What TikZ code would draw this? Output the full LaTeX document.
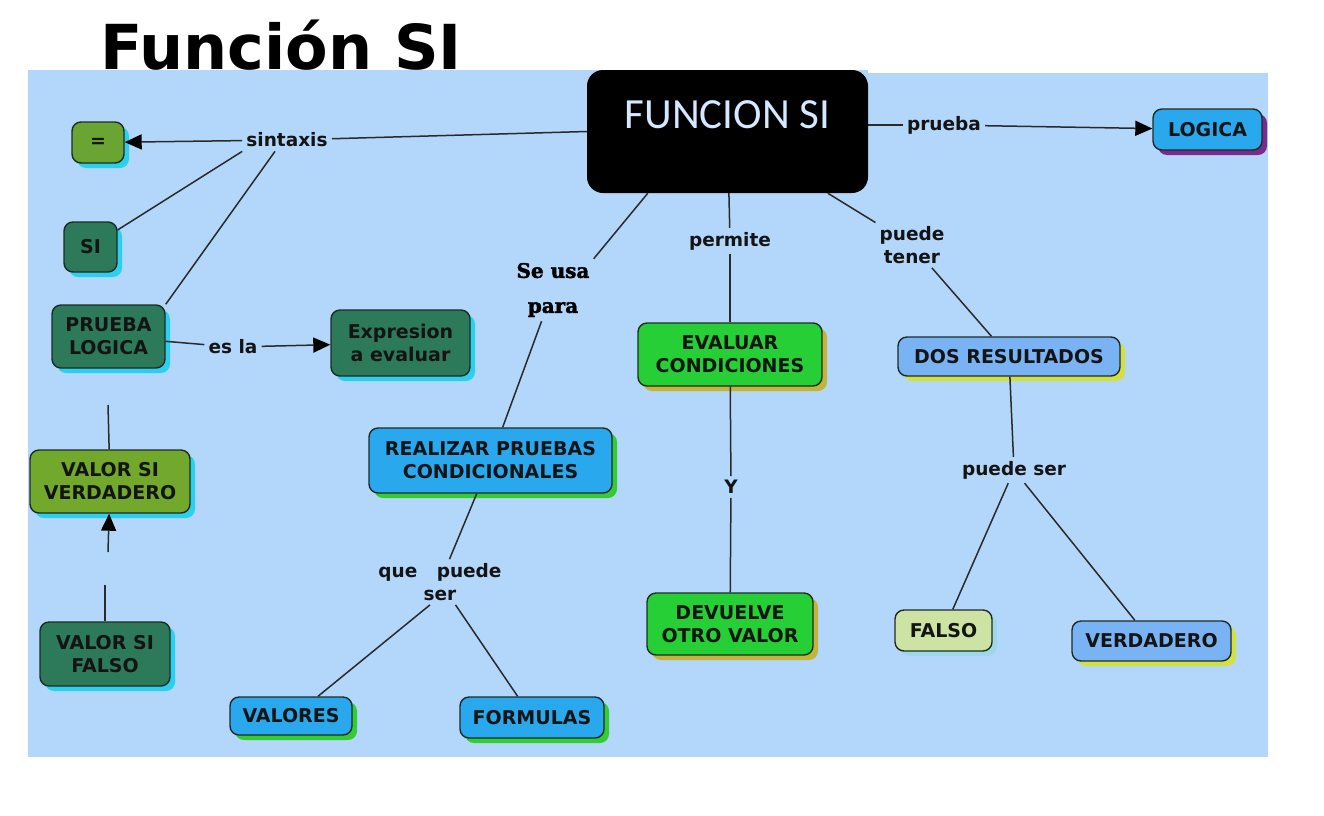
\documentclass[tikz,border=0pt]{standalone}
\usepackage{fontspec}
\setmainfont{DejaVu Sans}
\newfontfamily\carl{Carlito}
\newfontfamily\cooper{DejaVu Serif}[BoldFont={DejaVu Serif Bold}, BoldFeatures={FakeBold=2}]
\usetikzlibrary{arrows.meta,shadows}
\definecolor{bg}{HTML}{B3D7FA}
\definecolor{dgreen}{HTML}{2D7A5A}
\definecolor{olive}{HTML}{72A82C}
\definecolor{eqgreen}{HTML}{6AA534}
\definecolor{bgreen}{HTML}{26CF35}
\definecolor{cblue}{HTML}{29A8EE}
\definecolor{lblue}{HTML}{79B3F3}
\definecolor{pale}{HTML}{CDE3A4}
\definecolor{shcyan}{HTML}{2BD0F0}
\definecolor{shgreen}{HTML}{33CC33}
\definecolor{shyel}{HTML}{C2B53A}
\definecolor{shlime}{HTML}{D4E040}
\definecolor{shpurp}{HTML}{7A2A8A}
\definecolor{shpale}{HTML}{9ED8E8}
\definecolor{bord}{HTML}{1E2B25}
\definecolor{txt}{HTML}{141414}
\definecolor{lin}{HTML}{2A2A2A}
\definecolor{ftxt}{HTML}{D4E8FF}
\tikzset{
  box/.style={draw=bord, line width=1.4pt, rounded corners=9pt, text=txt,
    font=\bfseries\fontsize{19}{23}\selectfont, align=center, inner sep=0pt},
  sh/.style={drop shadow={shadow xshift=5pt, shadow yshift=-5pt, fill=#1, opacity=1}},
  lbl/.style={font=\bfseries\fontsize{18.5}{23}\selectfont, text=txt, align=center, inner sep=4pt},
  con/.style={draw=lin, line width=1.5pt},
  arr/.style={con, -{Triangle[length=17pt,width=15pt,color=black,fill=black]}}
}
\begin{document}
\begin{tikzpicture}[x=1pt,y=-1pt]
\useasboundingbox (0,0) rectangle (1324,815);
\fill[white] (0,0) rectangle (1324,815);
\fill[bg] (28,70) rectangle (868,757);
\fill[bg] (868,73) rectangle (1268,757);

% title
\node[anchor=base west, inner sep=0pt, font=\bfseries\fontsize{62}{70}\selectfont] (title) at (100,69) {Función SI};

% central node
\node[fill=black, rounded corners=16pt, minimum width=281pt, minimum height=123pt, inner sep=0pt,
  text=ftxt, text height=58pt, text depth=65pt, font=\carl\fontsize{43}{46}\selectfont] (funcion) at (727.5,131.5) {FUNCION SI};

% boxes
\node[box, sh=shcyan, fill=eqgreen, minimum width=52pt, minimum height=41pt] (eq) at (98,142.5) {=};
\node[box, sh=shcyan, fill=dgreen, minimum width=53pt, minimum height=50pt] (si) at (90.5,247) {SI};
\node[box, sh=shcyan, fill=dgreen, minimum width=113pt, minimum height=63pt] (prueba) at (108.5,336.5) {PRUEBA\\LOGICA};
\node[box, sh=shcyan, fill=dgreen, minimum width=139pt, minimum height=66pt] (expr) at (400.5,343) {Expresion\\a evaluar};
\node[box, sh=shcyan, fill=olive, minimum width=160pt, minimum height=63pt] (vsv) at (110,481.5) {VALOR SI\\VERDADERO};
\node[box, sh=shcyan, fill=dgreen, minimum width=130pt, minimum height=64pt] (vsf) at (105,654) {VALOR SI\\FALSO};
\node[box, sh=shgreen, fill=cblue, minimum width=243pt, minimum height=65pt] (real) at (490.5,460.5) {REALIZAR PRUEBAS\\CONDICIONALES};
\node[box, sh=shgreen, fill=cblue, minimum width=122pt, minimum height=38pt] (valores) at (291,716) {VALORES};
\node[box, sh=shgreen, fill=cblue, minimum width=144pt, minimum height=41pt] (formulas) at (532,717.5) {FORMULAS};
\node[box, sh=shyel, fill=bgreen, minimum width=184pt, minimum height=63pt] (evaluar) at (730,354.5) {EVALUAR\\CONDICIONES};
\node[box, sh=shyel, fill=bgreen, minimum width=166pt, minimum height=62pt] (devuelve) at (730,624) {DEVUELVE\\OTRO VALOR};
\node[box, sh=shlime, fill=lblue, minimum width=222pt, minimum height=39pt] (dos) at (1009,356.5) {DOS RESULTADOS};
\node[box, sh=shpale, fill=pale, minimum width=97pt, minimum height=41pt] (falso) at (943.5,630.5) {FALSO};
\node[box, sh=shlime, fill=lblue, minimum width=159pt, minimum height=40pt] (verdadero) at (1151.5,641) {VERDADERO};
\node[box, sh=shpurp, fill=cblue, minimum width=109pt, minimum height=41pt] (logica) at (1207.5,129.5) {LOGICA};

% labels
\node[lbl] (sintaxis) at (287,140) {sintaxis};
\node[lbl] (esla) at (233,347) {es la};
\node[lbl, font=\cooper\bfseries\fontsize{20}{35}\selectfont, text=black] (seusa) at (553,290) {Se usa\\para};
\node[lbl] (quepuede) at (440,582) {que\ \ \ puede\\ser};
\node[lbl] (permite) at (730,241) {permite};
\node[lbl] (ylab) at (731,487) {Y};
\node[lbl] (puedetener) at (912,245) {puede\\tener};
\node[lbl] (puedeser) at (1014,470) {puede ser};
\node[lbl] (plab) at (944,125) {prueba};

\coordinate (c1) at (108,405);
\coordinate (c2) at (105,585);
\coordinate (c3) at (108,552);

% connectors
\draw[con] (funcion.west) -- (sintaxis);
\draw[arr] (sintaxis) -- (eq);
\draw[con] (sintaxis.south west) -- (si);
\draw[con] ([xshift=-12pt]sintaxis.south) -- (prueba.north east);
\draw[con] (prueba) -- (esla);
\draw[arr] (esla) -- (expr);
\draw[con] (vsv) -- (c1);
\draw[con] (vsf) -- (c2);
\draw[arr] (c3) -- (vsv);
\draw[con] ([xshift=61pt]funcion.south west) -- (seusa.north east);
\draw[con] (seusa) -- (real);
\draw[con] (real) -- (quepuede);
\draw[con] ([xshift=-10pt]quepuede.south) -- ([xshift=27pt]valores.north);
\draw[con] (quepuede) -- (formulas);
\draw[con] (funcion) -- (permite);
\draw[con] (permite) -- (evaluar);
\draw[con] (evaluar) -- (ylab);
\draw[con] (ylab) -- (devuelve);
\draw[con] (funcion) -- (puedetener);
\draw[con] (puedetener) -- (dos);
\draw[con] (dos) -- (puedeser);
\draw[con] (puedeser) -- (falso);
\draw[con] (puedeser) -- (verdadero);
\draw[con] (plab) -- (plab -| funcion.east);
\draw[arr] (plab) -- (logica);
\end{tikzpicture}
\end{document}
